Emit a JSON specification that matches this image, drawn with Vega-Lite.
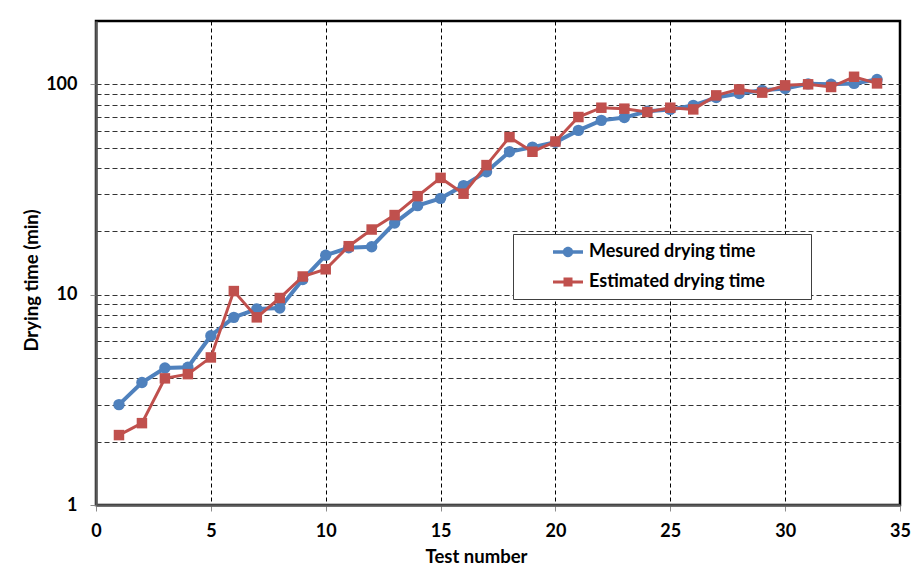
{
  "$schema": "https://vega.github.io/schema/vega-lite/v6.json",
  "width": 804,
  "height": 484,
  "autosize": "none",
  "padding": {"left": 96, "top": 21, "right": 12, "bottom": 63},
  "background": "white",
  "config": {
    "font": "Lato",
    "view": {"stroke": "#000", "strokeWidth": 2.5}
  },
  "data": {
    "values": [
      {"test": 1, "series": "Mesured drying time", "time": 3.0},
      {"test": 2, "series": "Mesured drying time", "time": 3.82},
      {"test": 3, "series": "Mesured drying time", "time": 4.48},
      {"test": 4, "series": "Mesured drying time", "time": 4.52},
      {"test": 5, "series": "Mesured drying time", "time": 6.38},
      {"test": 6, "series": "Mesured drying time", "time": 7.8},
      {"test": 7, "series": "Mesured drying time", "time": 8.55},
      {"test": 8, "series": "Mesured drying time", "time": 8.64},
      {"test": 9, "series": "Mesured drying time", "time": 11.8},
      {"test": 10, "series": "Mesured drying time", "time": 15.4},
      {"test": 11, "series": "Mesured drying time", "time": 16.7},
      {"test": 12, "series": "Mesured drying time", "time": 16.9},
      {"test": 13, "series": "Mesured drying time", "time": 21.9},
      {"test": 14, "series": "Mesured drying time", "time": 26.5},
      {"test": 15, "series": "Mesured drying time", "time": 28.7},
      {"test": 16, "series": "Mesured drying time", "time": 33.0},
      {"test": 17, "series": "Mesured drying time", "time": 38.4},
      {"test": 18, "series": "Mesured drying time", "time": 47.8},
      {"test": 19, "series": "Mesured drying time", "time": 50.3},
      {"test": 20, "series": "Mesured drying time", "time": 53.0},
      {"test": 21, "series": "Mesured drying time", "time": 60.4},
      {"test": 22, "series": "Mesured drying time", "time": 67.4},
      {"test": 23, "series": "Mesured drying time", "time": 69.5},
      {"test": 24, "series": "Mesured drying time", "time": 74.5},
      {"test": 25, "series": "Mesured drying time", "time": 76.0},
      {"test": 26, "series": "Mesured drying time", "time": 79.4},
      {"test": 27, "series": "Mesured drying time", "time": 86.5},
      {"test": 28, "series": "Mesured drying time", "time": 90.5},
      {"test": 29, "series": "Mesured drying time", "time": 93.6},
      {"test": 30, "series": "Mesured drying time", "time": 95.5},
      {"test": 31, "series": "Mesured drying time", "time": 100.5},
      {"test": 32, "series": "Mesured drying time", "time": 100.0},
      {"test": 33, "series": "Mesured drying time", "time": 101.0},
      {"test": 34, "series": "Mesured drying time", "time": 105.5},
      {"test": 1, "series": "Estimated drying time", "time": 2.15},
      {"test": 2, "series": "Estimated drying time", "time": 2.45},
      {"test": 3, "series": "Estimated drying time", "time": 4.0},
      {"test": 4, "series": "Estimated drying time", "time": 4.19},
      {"test": 5, "series": "Estimated drying time", "time": 5.03},
      {"test": 6, "series": "Estimated drying time", "time": 10.4},
      {"test": 7, "series": "Estimated drying time", "time": 7.8},
      {"test": 8, "series": "Estimated drying time", "time": 9.64},
      {"test": 9, "series": "Estimated drying time", "time": 12.2},
      {"test": 10, "series": "Estimated drying time", "time": 13.2},
      {"test": 11, "series": "Estimated drying time", "time": 17.0},
      {"test": 12, "series": "Estimated drying time", "time": 20.4},
      {"test": 13, "series": "Estimated drying time", "time": 23.9},
      {"test": 14, "series": "Estimated drying time", "time": 29.4},
      {"test": 15, "series": "Estimated drying time", "time": 35.9},
      {"test": 16, "series": "Estimated drying time", "time": 30.2},
      {"test": 17, "series": "Estimated drying time", "time": 41.3},
      {"test": 18, "series": "Estimated drying time", "time": 56.1},
      {"test": 19, "series": "Estimated drying time", "time": 47.8},
      {"test": 20, "series": "Estimated drying time", "time": 53.5},
      {"test": 21, "series": "Estimated drying time", "time": 69.9},
      {"test": 22, "series": "Estimated drying time", "time": 77.4},
      {"test": 23, "series": "Estimated drying time", "time": 76.6},
      {"test": 24, "series": "Estimated drying time", "time": 73.8},
      {"test": 25, "series": "Estimated drying time", "time": 77.4},
      {"test": 26, "series": "Estimated drying time", "time": 76.0},
      {"test": 27, "series": "Estimated drying time", "time": 88.6},
      {"test": 28, "series": "Estimated drying time", "time": 94.6},
      {"test": 29, "series": "Estimated drying time", "time": 91.3},
      {"test": 30, "series": "Estimated drying time", "time": 98.9},
      {"test": 31, "series": "Estimated drying time", "time": 100.0},
      {"test": 32, "series": "Estimated drying time", "time": 97.1},
      {"test": 33, "series": "Estimated drying time", "time": 108.6},
      {"test": 34, "series": "Estimated drying time", "time": 101.0}
    ]
  },
  "encoding": {
    "x": {
      "field": "test",
      "type": "quantitative",
      "scale": {"domain": [0, 35], "nice": false, "zero": false},
      "axis": {
        "title": "Test number",
        "titleFont": "Lato",
        "titleFontSize": 18.5,
        "titleFontWeight": "bold",
        "titleColor": "#000",
        "titleX": 380,
        "titlePadding": 7,
        "values": [0, 5, 10, 15, 20, 25, 30, 35],
        "format": "d",
        "labelFont": "Lato",
        "labelFontSize": 18,
        "labelFontWeight": "bold",
        "labelColor": "#000",
        "labelPadding": 11,
        "labelFlush": false,
        "ticks": true,
        "tickSize": 6,
        "tickColor": "#8c8c8c",
        "domainColor": "#595959",
        "domainWidth": 2.5,
        "grid": true,
        "gridColor": "#000",
        "gridDash": [4, 3],
        "gridWidth": 1,
        "gridOpacity": {"condition": {"test": "datum.value > 0 && datum.value < 35", "value": 1}, "value": 0}
      }
    },
    "y": {
      "field": "time",
      "type": "quantitative",
      "scale": {"type": "log", "domain": [1, 200], "nice": false},
      "axis": {
        "title": "Drying time (min)",
        "titleFont": "Lato",
        "titleFontSize": 18.5,
        "titleFontWeight": "bold",
        "titleColor": "#000",
        "titlePadding": 4,
        "titleY": 259,
        "values": [1, 2, 3, 4, 5, 6, 7, 8, 9, 10, 20, 30, 40, 50, 60, 70, 80, 90, 100],
        "format": "d",
        "labelExpr": "datum.value == 1 || datum.value == 10 || datum.value == 100 ? datum.label : ''",
        "labelFont": "Lato",
        "labelFontSize": 18,
        "labelFontWeight": "bold",
        "labelColor": "#000",
        "labelPadding": 13,
        "labelFlush": false,
        "tickSize": 6,
        "tickColor": "#8c8c8c",
        "tickOpacity": {"condition": {"test": "datum.value == 1 || datum.value == 10 || datum.value == 100", "value": 1}, "value": 0},
        "domainColor": "#595959",
        "domainWidth": 2.5,
        "grid": true,
        "gridColor": "#333",
        "gridDash": [5, 3],
        "gridWidth": 1,
        "gridOpacity": {"condition": {"test": "datum.value > 1", "value": 1}, "value": 0}
      }
    },
    "color": {
      "field": "series",
      "type": "nominal",
      "scale": {
        "domain": ["Mesured drying time", "Estimated drying time"],
        "range": ["#4F81BD", "#C0504D"]
      },
      "legend": {
        "title": "\u00a0",
        "titleOrient": "right",
        "titleFontSize": 10,
        "titlePadding": 38,
        "orient": "none",
        "legendX": 417,
        "legendY": 213,
        "direction": "vertical",
        "padding": 8,
        "strokeColor": "#404040",
        "fillColor": "white",
        "symbolSize": 400,
        "symbolOffset": 37,
        "labelOffset": 11,
        "rowPadding": 11,
        "labelFont": "Lato",
        "labelFontSize": 18,
        "labelFontWeight": "bold",
        "labelColor": "#000",
        "labelLimit": 0,
        "encode": {
          "symbols": {
            "update": {
              "shape": {"signal": "datum.value === 'Mesured drying time' ? 'M-1.5,-0.18H1.5V0.18H-1.5Z M0.52,0A0.52,0.52 0 1 1 -0.52,0A0.52,0.52 0 1 1 0.52,0Z' : 'M-1.5,-0.15H1.5V0.15H-1.5Z M-0.45,-0.45H0.45V0.45H-0.45Z'"},
              "fill": {"scale": "color", "field": "value"},
              "stroke": {"value": "transparent"},
              "strokeWidth": {"value": 0},
              "opacity": {"value": 1}
            }
          }
        }
      }
    }
  },
  "layer": [
    {
      "transform": [{"filter": "datum.series === 'Mesured drying time'"}],
      "mark": {"type": "line", "strokeWidth": 4}
    },
    {
      "transform": [{"filter": "datum.series === 'Mesured drying time'"}],
      "mark": {"type": "point", "shape": "circle", "filled": true, "size": 130, "opacity": 1}
    },
    {
      "transform": [{"filter": "datum.series === 'Estimated drying time'"}],
      "mark": {"type": "line", "strokeWidth": 3}
    },
    {
      "transform": [{"filter": "datum.series === 'Estimated drying time'"}],
      "mark": {"type": "point", "shape": "square", "filled": true, "size": 110, "opacity": 1}
    }
  ]
}
